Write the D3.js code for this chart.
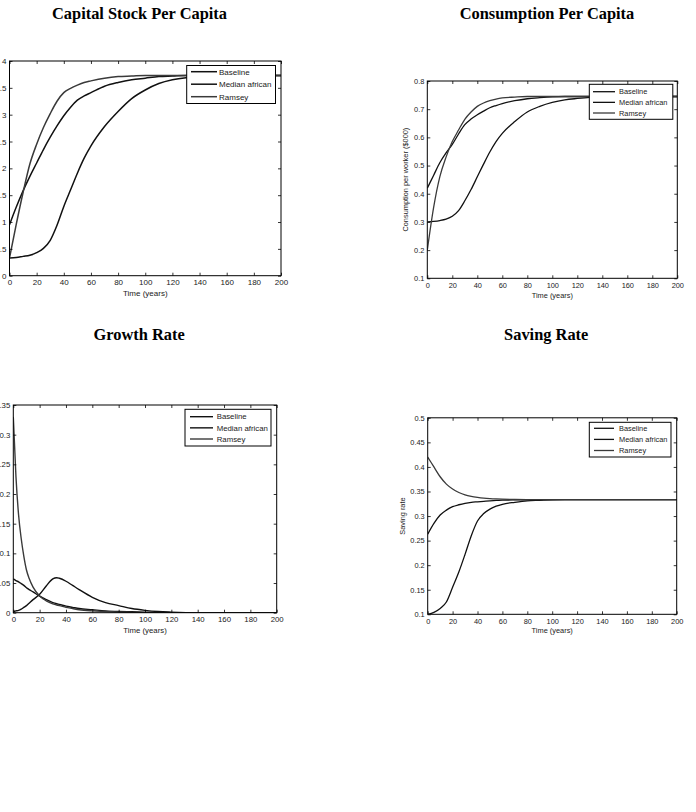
<!DOCTYPE html>
<html><head><meta charset="utf-8">
<script src="https://cdn.jsdelivr.net/npm/d3@7/dist/d3.min.js"></script>
<style>body{margin:0;background:#fff}svg{display:block}</style>
</head><body>
<svg id="c" width="696" height="812"></svg>
<script>
// ---------- data ----------
const seriesNames = ["Baseline", "Median african", "Ramsey"];
const xTicks = [0, 20, 40, 60, 80, 100, 120, 140, 160, 180, 200];

const times = [0,5,10,15,20,25,30,35,40,45,50,55,60,70,80,90,100,110,120,130,140,150,160,180,200];
const growthTimes = [0,2,4,6,8,10,12,15,20,25,30,33,35,40,45,50,60,70,80,90,100,110,120,140,160,180,200];

const capitalTicks = [0,0.5,1,1.5,2,2.5,3,3.5,4];
const capitalTickLabels = ["0","0.5","1","1.5","2","2.5","3","3.5","4"];
const capitalBaseline = [0.95,1.28,1.58,1.85,2.10,2.35,2.58,2.79,2.98,3.14,3.27,3.35,3.41,3.53,3.60,3.65,3.68,3.71,3.72,3.73,3.73,3.73,3.73,3.73,3.73];
const capitalMedian   = [0.33,0.34,0.36,0.38,0.43,0.51,0.66,0.94,1.29,1.60,1.91,2.19,2.42,2.78,3.06,3.30,3.46,3.58,3.65,3.69,3.71,3.72,3.73,3.73,3.73];
const capitalRamsey   = [0.33,0.96,1.55,2.08,2.45,2.76,3.02,3.25,3.41,3.49,3.55,3.60,3.63,3.68,3.71,3.72,3.73,3.73,3.73,3.73,3.73,3.73,3.73,3.73,3.73];

const consTicks = [0.1,0.2,0.3,0.4,0.5,0.6,0.7,0.8];
const consTickLabels = ["0.1","0.2","0.3","0.4","0.5","0.6","0.7","0.8"];
const consBaseline = [0.42,0.465,0.51,0.545,0.575,0.612,0.645,0.665,0.68,0.693,0.705,0.713,0.72,0.73,0.737,0.741,0.744,0.745,0.745,0.745,0.745,0.745,0.745,0.745,0.745];
const consMedian   = [0.30,0.302,0.305,0.31,0.32,0.34,0.375,0.415,0.46,0.505,0.548,0.585,0.614,0.656,0.69,0.71,0.724,0.733,0.738,0.742,0.744,0.745,0.745,0.745,0.745];
const consRamsey   = [0.2,0.35,0.46,0.53,0.585,0.626,0.664,0.69,0.71,0.722,0.73,0.736,0.74,0.743,0.745,0.745,0.745,0.745,0.745,0.745,0.745,0.745,0.745,0.745,0.745];

const growthTicks = [0,0.05,0.1,0.15,0.2,0.25,0.3,0.35];
const growthTickLabels = ["0","0.05","0.1","0.15","0.2","0.25","0.3","0.35"];
const growthBaseline = [0.057,0.054,0.052,0.049,0.046,0.042,0.039,0.035,0.028,0.022,0.017,0.015,0.014,0.011,0.009,0.007,0.005,0.003,0.002,0.0015,0.001,0.0005,0,0,0,0,0];
const growthMedian   = [0.002,0.003,0.004,0.006,0.009,0.012,0.016,0.022,0.031,0.045,0.057,0.059,0.058,0.053,0.046,0.039,0.026,0.017,0.012,0.007,0.004,0.002,0.001,0,0,0,0];
const growthRamsey   = [0.33,0.23,0.165,0.125,0.095,0.072,0.058,0.043,0.028,0.020,0.015,0.013,0.012,0.009,0.007,0.005,0.003,0.002,0.001,0.0005,0,0,0,0,0,0,0];

const savingTicks = [0.1,0.15,0.2,0.25,0.3,0.35,0.4,0.45,0.5];
const savingTickLabels = ["0.1","0.15","0.2","0.25","0.3","0.35","0.4","0.45","0.5"];
const savingBaseline = [0.263,0.285,0.302,0.312,0.319,0.323,0.326,0.328,0.329,0.330,0.331,0.3318,0.3323,0.3328,0.3331,0.3333,0.3333,0.3333,0.3333,0.3333,0.3333,0.3333,0.3333,0.3333,0.3333];
const savingMedian   = [0.1,0.104,0.112,0.125,0.155,0.186,0.222,0.26,0.29,0.305,0.314,0.32,0.324,0.328,0.331,0.332,0.333,0.3333,0.3333,0.3333,0.3333,0.3333,0.3333,0.3333,0.3333];
const savingRamsey   = [0.42,0.40,0.38,0.365,0.355,0.348,0.343,0.340,0.338,0.3365,0.3355,0.3348,0.3343,0.3337,0.3335,0.3334,0.3333,0.3333,0.3333,0.3333,0.3333,0.3333,0.3333,0.3333,0.3333];

// ---------- layout ----------
const seriesColors = ["#111", "#111", "#3a3a3a"];
const panels = [
  {title:"Capital Stock Per Capita", tx:139.5, ty:19, L:9.5, T:61, R:281, B:275.7,
   yDomain:[0,4], yTicks:capitalTicks, yLabels:capitalTickLabels, t:times,
   data:[capitalBaseline, capitalMedian, capitalRamsey], font:8, lw:1.5,
   xLabelDy:20.5, yLabel:null,
   lg:{x:186.7, y:65.5, w:88.8, h:38, l0:4.3, l1:30.3, tx:32.3, r0:6.2, step:12.5, font:8}},
  {title:"Consumption Per Capita", tx:547, ty:19, L:427.3, T:81, R:677.3, B:278.3,
   yDomain:[0.1,0.8], yTicks:consTicks, yLabels:consTickLabels, t:times,
   data:[consBaseline, consMedian, consRamsey], font:7.4, lw:1.3,
   xLabelDy:19.3, yLabel:"Consumption per worker ($000)", ylx:408.3,
   lg:{x:589.3, y:84.3, w:83.5, h:35, l0:3.7, l1:25.7, tx:29.7, r0:7.4, step:10.65, font:7.4}},
  {title:"Growth Rate", tx:139.2, ty:340, L:13.3, T:405, R:276.7, B:612.7,
   yDomain:[0,0.35], yTicks:growthTicks, yLabels:growthTickLabels, t:growthTimes,
   data:[growthBaseline, growthMedian, growthRamsey], font:7.8, lw:1.4,
   xLabelDy:20, yLabel:null,
   lg:{x:185, y:409.3, w:86, h:36.7, l0:5, l1:28, tx:31.7, r0:7.4, step:11.15, font:7.8}},
  {title:"Saving Rate", tx:546.2, ty:340, L:427.7, T:417.8, R:676.7, B:614.3,
   yDomain:[0.1,0.5], yTicks:savingTicks, yLabels:savingTickLabels, t:times,
   data:[savingBaseline, savingMedian, savingRamsey], font:7.4, lw:1.3,
   xLabelDy:18.3, yLabel:"Saving rate", ylx:405.3,
   lg:{x:589.3, y:422.3, w:81.7, h:34.7, l0:4.7, l1:24.7, tx:29.7, r0:6, step:11.1, font:7.4}}
];

const svg = d3.select("#c");
svg.append("rect").attr("width",696).attr("height",812).attr("fill","#fff");
const sans = "Liberation Sans, Arial, Helvetica, sans-serif";
const serif = "Liberation Serif, Times New Roman, serif";

panels.forEach((p, pi) => {
  // title
  svg.append("text").attr("x", p.tx).attr("y", p.ty).attr("text-anchor","middle")
    .attr("font-family", serif).attr("font-weight","bold").attr("font-size", 16.4)
    .attr("fill","#000").text(p.title);

  const x = d3.scaleLinear().domain([0,200]).range([p.L, p.R]);
  const y = d3.scaleLinear().domain(p.yDomain).range([p.B, p.T]);

  const clipId = "clip" + pi;
  svg.append("clipPath").attr("id", clipId).append("rect")
    .attr("x", p.L).attr("y", p.T).attr("width", p.R - p.L).attr("height", p.B - p.T);

  // lines
  const line = d3.line().x((d) => x(d[0])).y((d) => y(d[1])).curve(d3.curveMonotoneX);
  const g = svg.append("g").attr("clip-path", `url(#${clipId})`);
  p.data.forEach((vals, si) => {
    g.append("path").datum(p.t.map((t, i) => [t, vals[i]]))
      .attr("d", line).attr("fill","none").attr("stroke", seriesColors[si])
      .attr("stroke-width", p.lw).attr("stroke-linejoin","round");
  });

  // axes (inward ticks, all four sides)
  const styleAxis = (sel) => {
    sel.select(".domain").remove();
    sel.selectAll("line").attr("stroke","#000").attr("stroke-width",0.8);
    sel.selectAll("text").attr("font-family", sans).attr("font-size", p.font).attr("fill","#222");
  };
  svg.append("g").attr("transform",`translate(0,${p.B})`)
    .call(d3.axisBottom(x).tickValues(xTicks).tickSizeInner(-3).tickSizeOuter(0).tickPadding(4).tickFormat(d3.format("d")))
    .call(styleAxis);
  svg.append("g").attr("transform",`translate(0,${p.T})`)
    .call(d3.axisTop(x).tickValues(xTicks).tickSizeInner(-3).tickSizeOuter(0).tickFormat(""))
    .call(styleAxis);
  svg.append("g").attr("transform",`translate(${p.L},0)`)
    .call(d3.axisLeft(y).tickValues(p.yTicks).tickSizeInner(-3).tickSizeOuter(0).tickPadding(3)
      .tickFormat((d, i) => p.yLabels[i]))
    .call(styleAxis);
  svg.append("g").attr("transform",`translate(${p.R},0)`)
    .call(d3.axisRight(y).tickValues(p.yTicks).tickSizeInner(-3).tickSizeOuter(0).tickFormat(""))
    .call(styleAxis);

  // frame
  svg.append("rect").attr("x", p.L).attr("y", p.T).attr("width", p.R - p.L).attr("height", p.B - p.T)
    .attr("fill","none").attr("stroke","#000").attr("stroke-width",1);

  // x label
  svg.append("text").attr("x", (p.L + p.R) / 2).attr("y", p.B + p.xLabelDy)
    .attr("text-anchor","middle").attr("font-family", sans).attr("font-size", p.font)
    .attr("fill","#222").text("Time (years)");
  if (p.yLabel) {
    svg.append("text").attr("transform", `translate(${p.ylx},${(p.T + p.B) / 2}) rotate(-90)`)
      .attr("text-anchor","middle").attr("font-family", sans).attr("font-size", p.font)
      .attr("fill","#222").text(p.yLabel);
  }

  // legend
  const lg = p.lg;
  const lgG = svg.append("g").attr("transform", `translate(${lg.x},${lg.y})`);
  lgG.append("rect").attr("width", lg.w).attr("height", lg.h).attr("fill","#fff")
    .attr("stroke","#000").attr("stroke-width",1);
  seriesNames.forEach((name, si) => {
    const ry = lg.r0 + si * lg.step;
    lgG.append("line").attr("x1", lg.l0).attr("x2", lg.l1).attr("y1", ry).attr("y2", ry)
      .attr("stroke", seriesColors[si]).attr("stroke-width", p.lw);
    lgG.append("text").attr("x", lg.tx).attr("y", ry).attr("dy","0.35em")
      .attr("font-family", sans).attr("font-size", lg.font).attr("fill","#222").text(name);
  });
});
</script>
</body></html>
